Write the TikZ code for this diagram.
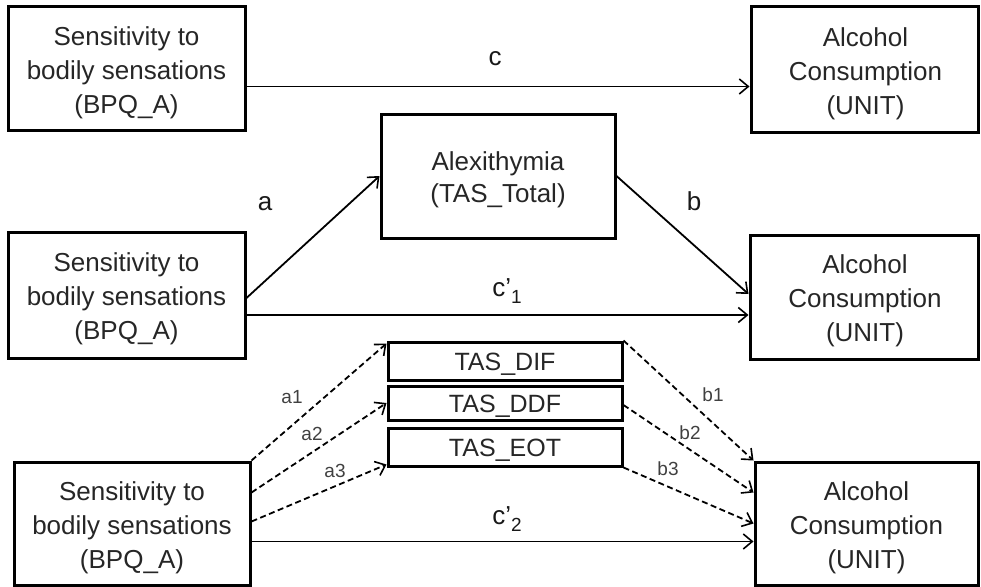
\documentclass[tikz,border=0pt]{standalone}
\usepackage{fontspec}
\setmainfont{Liberation Sans}
\usetikzlibrary{arrows.meta,calc}
\begin{document}
\begin{tikzpicture}[x=1pt,y=-1pt,
  box/.style={draw=black,line width=3pt,rectangle,inner sep=0pt},
  txt/.style={align=center,inner sep=0pt,font=\fontsize{26}{34}\selectfont,text=black!85},
  sbox/.style={draw=black,line width=3pt,rectangle,inner sep=0pt,text height=18pt,text depth=0pt,
    font=\fontsize{25}{28}\selectfont,text=black!85,minimum width=234pt},
  arr/.style={line width=1.8pt,-{Straight Barb[length=9pt,width=15pt,line width=1.6pt]}},
  darr/.style={arr,dash pattern=on 6pt off 3.5pt},
  lab/.style={font=\fontsize{26}{30}\selectfont,text=black!90,inner sep=0pt},
  slab/.style={font=\fontsize{19}{22}\selectfont,text=black!75,inner sep=0pt}]
\useasboundingbox (0,0) rectangle (981,586);
% boxes
\node[box,minimum width=237pt,minimum height=123pt] (tl) at (126.5,68.5) {};
\node[box,minimum width=227pt,minimum height=125pt] (tr) at (864.5,69.5) {};
\node[box,minimum width=234pt,minimum height=124pt] (alex) at (498,176) {};
\node[box,minimum width=237pt,minimum height=126pt] (ml) at (126.5,295) {};
\node[box,minimum width=228pt,minimum height=124pt] (mr) at (864,297) {};
\node[box,minimum width=236pt,minimum height=123pt] (bl) at (132,523.5) {};
\node[box,minimum width=223pt,minimum height=123pt] (br) at (866.5,523.5) {};
% box texts
\node[txt] (tlt) at ($(tl)+(0,4)$) {Sensitivity to\\bodily sensations\\(BPQ\_A)};
\node[txt] (trt) at ($(tr)+(1,4)$) {Alcohol\\Consumption\\(UNIT)};
\node[txt,font=\fontsize{26}{32}\selectfont] (alext) at ($(alex)+(0,4)$) {Alexithymia\\(TAS\_Total)};
\node[txt] (mlt) at ($(ml)+(0,4)$) {Sensitivity to\\bodily sensations\\(BPQ\_A)};
\node[txt] (mrt) at ($(mr)+(1,4)$) {Alcohol\\Consumption\\(UNIT)};
\node[txt] (blt) at ($(bl)+(0,4)$) {Sensitivity to\\bodily sensations\\(BPQ\_A)};
\node[txt] (brt) at ($(br)+(0,4)$) {Alcohol\\Consumption\\(UNIT)};
\node[sbox,minimum height=38pt] (dif) at (505,361) {TAS\_DIF};
\node[sbox,minimum height=34pt] (ddf) at (505,403) {TAS\_DDF};
\node[sbox,minimum height=38pt] (eot) at (505,447) {TAS\_EOT};
% top path
\coordinate (cs) at ($(tl.east)+(0,18)$);
\draw[arr] (cs) -- (cs -| tr.west);
\node[lab] (lc) at (495,59) {c};
% middle mediation
\draw[arr] ($(ml.east)+(0,3)$) -- (alex.west);
\draw[arr] (alex.east) -- ($(mr.west)+(0,-3)$);
\coordinate (c1s) at ($(ml.east)+(0,20)$);
\draw[arr] (c1s) -- (c1s -| mr.west);
\node[lab] (la) at (265,204) {a};
\node[lab] (lb) at (694,201) {b};
\node[lab] (lc1) at (507,291) {c’\raisebox{-7pt}{\fontsize{19}{19}\selectfont 1}};
% bottom multiple mediation
\draw[darr] (bl.north east) -- ($(dif.north west)+(0,3)$);
\draw[darr] ($(bl.north east)+(0,32)$) -- (ddf.west);
\draw[darr] ($(bl.east)+(0,-2)$) -- ($(eot.south west)+(0,-3)$);
\draw[darr] (dif.north east) -- (br.north west);
\draw[darr] ($(ddf.east)+(0,2)$) -- ($(br.north west)+(0,32)$);
\draw[darr] (eot.south east) -- (br.west);
\coordinate (c2s) at ($(bl.east)+(0,18)$);
\draw[arr] (c2s) -- (c2s -| br.west);
\node[slab] (la1) at (292,397) {a1};
\node[slab] (la2) at (312,434) {a2};
\node[slab] (la3) at (335,471) {a3};
\node[slab] (lb1) at (713,395) {b1};
\node[slab] (lb2) at (690,433) {b2};
\node[slab] (lb3) at (668,469) {b3};
\node[lab] (lc2) at (507,519) {c’\raisebox{-7pt}{\fontsize{19}{19}\selectfont 2}};
\end{tikzpicture}
\end{document}
